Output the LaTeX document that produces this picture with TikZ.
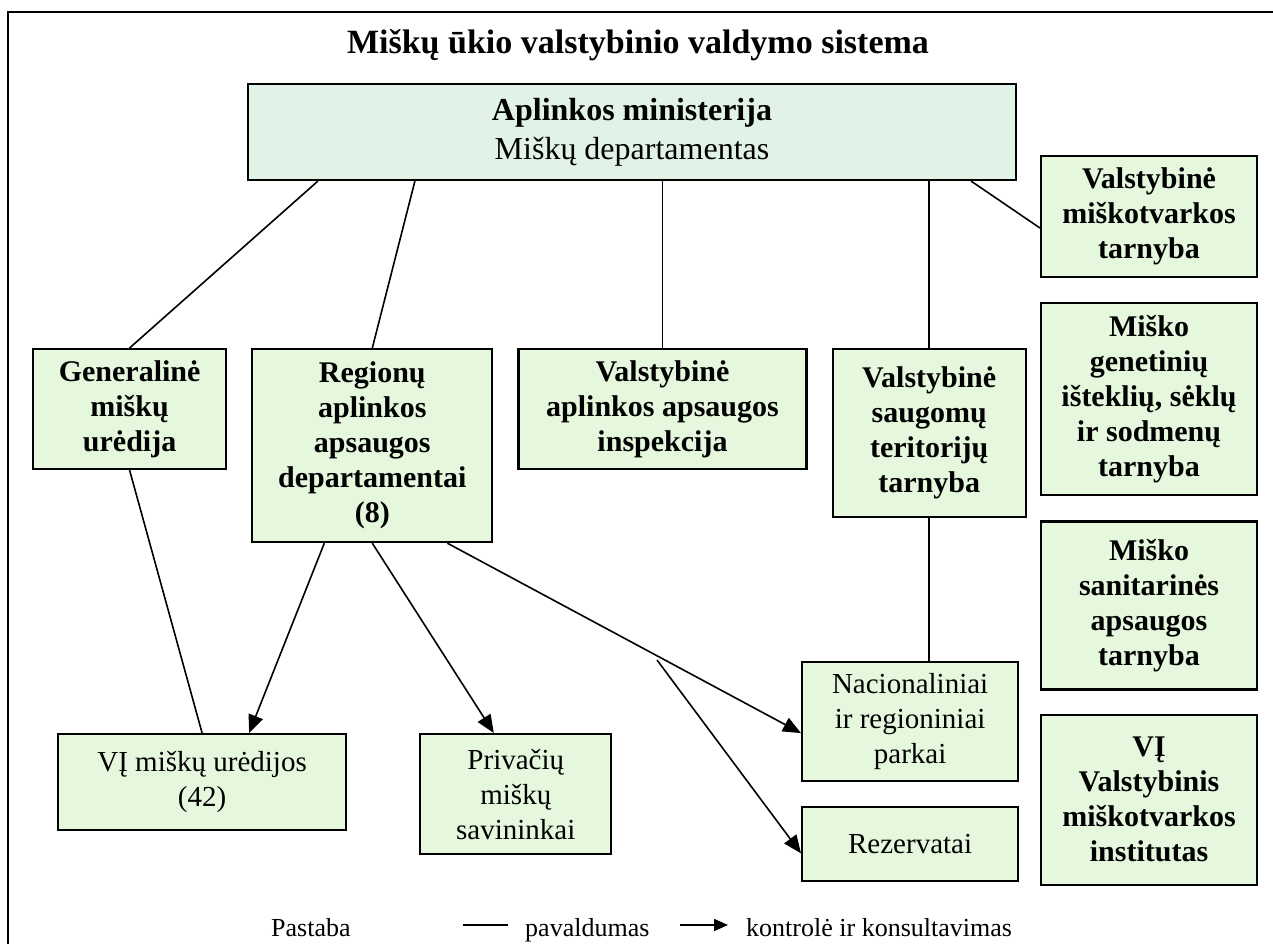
\documentclass[tikz,border=0pt]{standalone}
\usepackage{fontspec}
\setmainfont{Liberation Serif}
\usetikzlibrary{positioning,arrows.meta}
\definecolor{topfill}{RGB}{225,243,231}
\definecolor{boxfill}{RGB}{229,248,221}
\tikzset{
  box/.style={draw, line width=2.2pt, fill=boxfill, align=center, inner sep=3pt},
  bbox/.style={box, font=\fontsize{30}{35}\selectfont\bfseries},
  rbox/.style={box, font=\fontsize{29}{35}\selectfont},
  sub/.style={line width=1.6pt},
  ctrl/.style={line width=1.6pt, -{Triangle[length=18pt,width=15pt]}},
  legend/.style={inner sep=0pt, anchor=base west, font=\fontsize{26}{30}\selectfont},
}

\begin{document}
\begin{tikzpicture}[x=1pt, y=-1pt]
  \useasboundingbox (0,0) rectangle (1273,944);
  \draw[line width=2pt] (8,944) -- (8,12) -- (1273,12);
  \node[font=\fontsize{34}{40}\selectfont\bfseries, anchor=base] (title) at (638,54) {Miškų ūkio valstybinio valdymo sistema};
  \node[box, fill=topfill, font=\fontsize{32}{39}\selectfont, minimum width=768pt, minimum height=96pt] (mindep) at (632,132) {\textbf{Aplinkos ministerija}\\Miškų departamentas};
  % antras lygis
  \node[bbox, minimum width=193pt, minimum height=120pt, anchor=north west] (gmu) at (32,348) {Generalinė\\miškų\\urėdija};
  \node[bbox, minimum width=240pt, minimum height=193pt] (raad) [right=24pt of gmu.north east, anchor=north west] {Regionų\\aplinkos\\apsaugos\\departamentai\\(8)};
  \node[bbox, minimum width=288pt, minimum height=120pt] (vaai) [right=24pt of raad.north east, anchor=north west] {Valstybinė\\aplinkos apsaugos\\inspekcija};
  \node[bbox, minimum width=193pt, minimum height=168pt] (vstt) [right=24pt of vaai.north east, anchor=north west] {Valstybinė\\saugomų\\teritorijų\\tarnyba};
  % dešinysis stulpelis
  \node[bbox, minimum width=216pt, minimum height=121pt] (vmt) at (1149,216.5) {Valstybinė\\miškotvarkos\\tarnyba};
  \node[bbox, minimum width=216pt, minimum height=192pt] (mgist) [below=24pt of vmt] {Miško\\genetinių\\išteklių, sėklų\\ir sodmenų\\tarnyba};
  \node[bbox, minimum width=216pt, minimum height=168pt] (msat) [below=24pt of mgist] {Miško\\sanitarinės\\apsaugos\\tarnyba};
  \node[bbox, minimum width=216pt, minimum height=170pt] (vmi) [below=23pt of msat] {VĮ\\Valstybinis\\miškotvarkos\\institutas};
  % apatinis lygis
  \node[rbox, minimum width=288pt, minimum height=96pt, anchor=north west] (vmu) at (57,733) {VĮ miškų urėdijos\\(42)};
  \node[rbox, minimum width=191pt, minimum height=120pt] (pms) [right=72pt of vmu.north east, anchor=north west] {Privačių\\miškų\\savininkai};
  \node[rbox, minimum width=216pt, minimum height=119pt, anchor=north west] (nrp) at (801,661) {Nacionaliniai\\ir regioniniai\\parkai};
  \node[rbox, minimum width=216pt, minimum height=74pt] (rez) [below=24pt of nrp] {Rezervatai};
  \coordinate (rezfrom) at (657,660);
  % pavaldumas
  \draw[sub] ([xshift=71pt]mindep.south west) -- (gmu.north);
  \draw[sub] ([xshift=168pt]mindep.south west) -- (raad.north);
  \draw[sub] (vaai.north |- mindep.south) -- (vaai.north);
  \draw[sub] (vstt.north |- mindep.south) -- (vstt.north);
  \draw[sub] ([xshift=-46pt]mindep.south east) -- ([yshift=-11.5pt]vmt.west);
  \draw[sub] (gmu.south) -- (vmu.north);
  \draw[sub] (vstt.south) -- (vstt.south |- nrp.north);
  % kontrolė
  \draw[ctrl] ([xshift=-48pt]raad.south) -- ([xshift=47pt]vmu.north);
  \draw[ctrl] (raad.south) -- ([xshift=-22pt]pms.north);
  \draw[ctrl] ([xshift=-46pt]raad.south east) -- ([yshift=-11.5pt]nrp.west);
  \draw[ctrl] (rezfrom) -- ([yshift=-9pt]rez.west);
  % legenda
  \node[legend] (lgnote) at (271,936) {Pastaba};
  \node[legend] (lgsub) at (525,936) {pavaldumas};
  \node[legend] (lgctrl) at (746,936) {kontrolė ir konsultavimas};
  \draw[sub] ([xshift=-62pt, yshift=11pt]lgsub.base west) -- ([xshift=-17pt, yshift=11pt]lgsub.base west);
  \draw[line width=1.6pt, -{Triangle[length=14pt,width=12pt]}] ([xshift=-66pt, yshift=11pt]lgctrl.base west) -- ([xshift=-18pt, yshift=11pt]lgctrl.base west);
\end{tikzpicture}
\end{document}
